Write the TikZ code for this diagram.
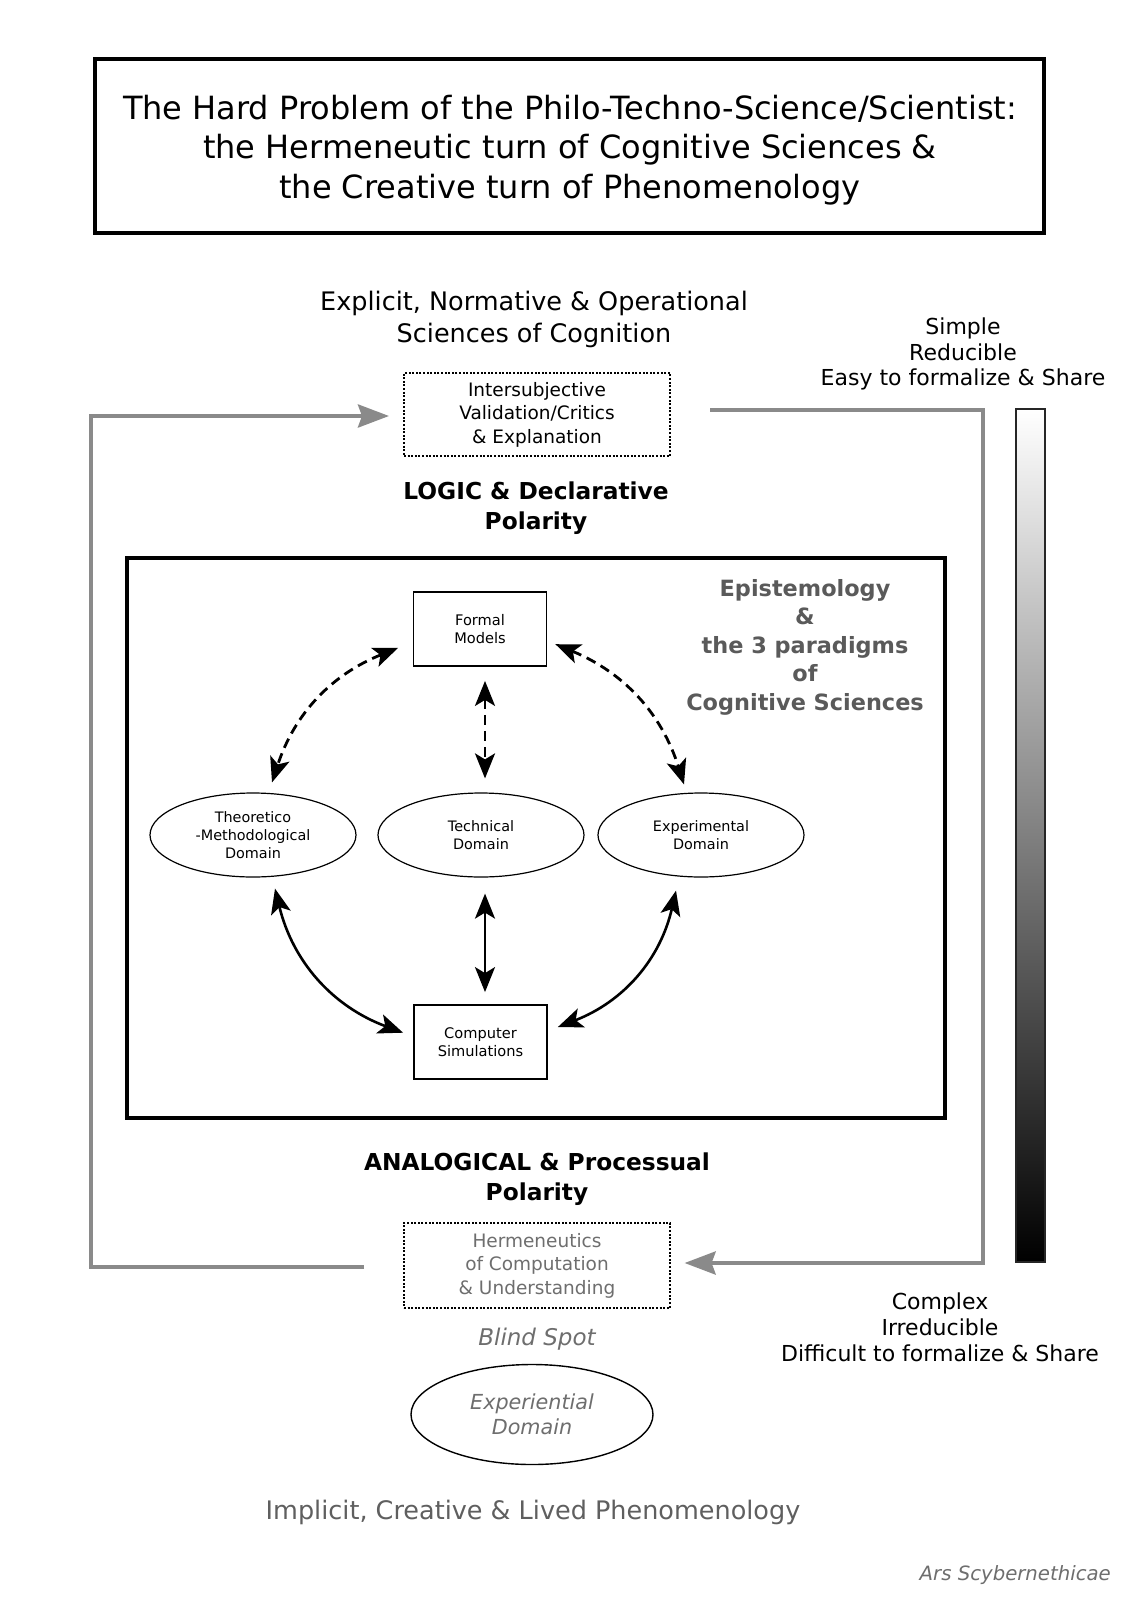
\documentclass[tikz,border=0pt]{standalone}
\usepackage{fontspec}
\setmainfont{DejaVu Sans}
\usetikzlibrary{arrows.meta,shapes.geometric}
\definecolor{greyline}{HTML}{8A8A8A}
\definecolor{epigrey}{HTML}{5A5A5A}
\definecolor{softgrey}{HTML}{6E6E6E}
\definecolor{lowgrey}{HTML}{5F5F5F}
\begin{document}
\begin{tikzpicture}[x=1pt,y=1pt,
  txt/.style={align=center, inner sep=0pt},
  bigbox/.style={draw=black, line width=4.5pt, fill=white},
  dotbox/.style={draw=black, line width=2pt, dash pattern=on 2pt off 1.6pt, minimum width=266pt, inner sep=0pt, align=center},
  smallbox/.style={draw=black, line width=1.8pt, fill=white, minimum width=133pt, minimum height=74pt, inner sep=0pt, align=center, font=\fontsize{14.6}{18.5}\selectfont},
  domainell/.style={draw=black, line width=1.2pt, ellipse, fill=white, minimum width=206pt, minimum height=84pt, inner sep=0pt, align=center, font=\fontsize{14.4}{18.2}\selectfont},
  greyarrow/.style={draw=greyline, line width=4pt, -{Stealth[length=31pt,width=23pt,inset=4pt]}},
  dasharrow/.style={draw=black, line width=2.8pt, dash pattern=on 10pt off 6pt, {Stealth[length=25pt,width=20pt,inset=6pt]}-{Stealth[length=25pt,width=20pt,inset=6pt]}},
  solidarrow/.style={draw=black, line width=2.6pt, {Stealth[length=25pt,width=20pt,inset=6pt]}-{Stealth[length=25pt,width=20pt,inset=6pt]}}
]
\useasboundingbox[fill=white] (0,0) rectangle (1131,-1600);

% title
\node[bigbox, minimum width=949pt, minimum height=174pt, inner sep=0pt] (title) at (569.5,-146) {};
\node[txt, font=\fontsize{32}{39.3}\selectfont] (titletext) at (570,-150)
  {The Hard Problem of the Philo-Techno-Science/Scientist:\\the Hermeneutic turn of Cognitive Sciences \&\\the Creative turn of Phenomenology};

% top labels
\node[txt, font=\fontsize{25.5}{31.6}\selectfont] (explicit) at (534,-319.5)
  {Explicit, Normative \& Operational\\Sciences of Cognition};
\node[dotbox, minimum height=83pt, font=\fontsize{18.5}{23.4}\selectfont] (inter) at (537,-414.5)
  {Intersubjective\\Validation/Critics\\\& Explanation};
\node[txt, font=\bfseries\fontsize{23.3}{29.8}\selectfont] (logic) at (536,-508)
  {LOGIC \& Declarative\\Polarity};

% right scale
\node[txt, font=\fontsize{22}{25.5}\selectfont] (simple) at (963,-354)
  {Simple\\Reducible\\Easy to formalize \& Share};
\node[draw=black!85, line width=1.2pt, minimum width=29pt, minimum height=853pt, inner sep=0pt,
  top color=white, bottom color=black] (bar) at (1030.5,-835.5) {};
\node[txt, font=\fontsize{22}{25.8}\selectfont] (complex) at (940,-1327)
  {Complex\\Irreducible\\Difficult to formalize \& Share};

% main box
\node[bigbox, minimum width=818pt, minimum height=560pt, inner sep=0pt] (main) at (536,-838) {};
\node[txt, text=epigrey, font=\bfseries\fontsize{22.4}{28.5}\selectfont] (epi) at (805,-647)
  {Epistemology\\\&\\the 3 paradigms\\of\\Cognitive Sciences};

\node[smallbox] (fm) at (480,-629) {Formal\\Models};
\node[domainell] (th) at (253,-835) {Theoretico\\-Methodological\\Domain};
\node[domainell] (te) at (481,-835) {Technical\\Domain};
\node[domainell] (ex) at (701,-835) {Experimental\\Domain};
\node[smallbox] (cs) at (480.5,-1042) {Computer\\Simulations};

% arrows inside
\draw[dasharrow] ([shift={(-14.5,19)}]fm.south west) to[bend right=25] ([shift={(19,10)}]th.north);
\draw[dasharrow] ([shift={(5,-14)}]fm.south) -- ([shift={(4,14)}]te.north);
\draw[dasharrow] ([shift={(8,22.7)}]fm.south east) to[bend left=25] ([shift={(-17,8)}]ex.north);
\draw[solidarrow] ([shift={(22,-11)}]th.south) to[bend right=28] ([shift={(-10,9.3)}]cs.west);
\draw[solidarrow] ([shift={(4,-16)}]te.south) -- ([shift={(4.5,12)}]cs.north);
\draw[solidarrow] ([shift={(-25,-13)}]ex.south) to[bend left=28] ([shift={(10,15)}]cs.east);

% bottom labels
\node[txt, font=\bfseries\fontsize{23.3}{29.5}\selectfont] (analog) at (537,-1179)
  {ANALOGICAL \& Processual\\Polarity};
\node[dotbox, minimum height=85pt, text=softgrey, font=\fontsize{18.5}{23.5}\selectfont] (herm) at (537,-1265.5)
  {Hermeneutics\\of Computation\\\& Understanding};
\node[txt, text=softgrey, font=\itshape\fontsize{23}{28}\selectfont] (blind) at (537,-1339) {Blind Spot};
\node[draw=black, line width=1.4pt, ellipse, minimum width=242pt, minimum height=100pt, inner sep=0pt,
  align=center, text=softgrey, font=\itshape\fontsize{20.7}{25.5}\selectfont] (expd) at (532,-1414.5)
  {Experiential\\Domain};
\node[txt, text=lowgrey, font=\fontsize{25.5}{30}\selectfont] (implicit) at (533,-1512)
  {Implicit, Creative \& Lived Phenomenology};
\node[txt, anchor=east, text=softgrey, font=\itshape\fontsize{19.7}{24}\selectfont] (ars) at (1111,-1575)
  {Ars Scybernethicae};

% grey loops
\draw[greyarrow] ([shift={(-39,-1.5)}]herm.west) -- ++(-273.5,0) |- ([shift={(-14,-1.5)}]inter.west);
\draw[greyarrow] ([shift={(39,4.5)}]inter.east) -- ++(273,0) |- ([shift={(13.6,2.5)}]herm.east);
\end{tikzpicture}
\end{document}
